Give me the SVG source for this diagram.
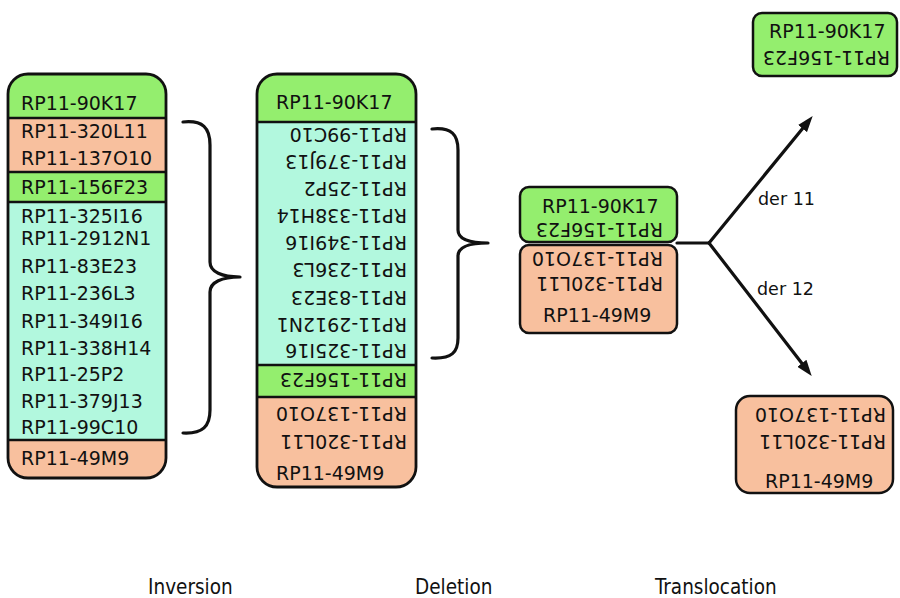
<svg xmlns="http://www.w3.org/2000/svg" width="900" height="598" viewBox="0 0 900 598">
<style>
.t{font-family:"DejaVu Sans","Liberation Sans",sans-serif;font-size:19px;fill:#111}
.lbl{font-family:"DejaVu Sans Condensed","DejaVu Sans",sans-serif;font-size:20.5px;fill:#111}
.der{font-family:"DejaVu Sans","Liberation Sans",sans-serif;font-size:17.5px;fill:#111}
.g{fill:#94EE6E}
.o{fill:#F8C09E}
.c{fill:#B2F8DE}
.div{stroke:#111;stroke-width:2.5}
.out{fill:none;stroke:#111;stroke-width:2.8}
.box{stroke:#111;stroke-width:2.5}
.con{fill:none;stroke:#111;stroke-width:3.2;stroke-linecap:round;stroke-linejoin:round}
</style>
<defs>
<clipPath id="clipL"><rect x="8" y="74" width="158" height="404" rx="20"/></clipPath>
<clipPath id="clipM"><rect x="257" y="74" width="159" height="413" rx="20"/></clipPath>
<marker id="ah" markerUnits="userSpaceOnUse" markerWidth="16" markerHeight="12" refX="6" refY="5" orient="auto" viewBox="0 0 14 10">
<path d="M0,0 L14,5 L0,10 z" fill="#111"/>
</marker>
</defs>

<!-- Inversion column -->
<g id="inversion">
<g clip-path="url(#clipL)">
<g id="inv-90K17"><rect class="g" x="8" y="74" width="158" height="44"/><text class="t" x="21" y="110">RP11-90K17</text></g>
<g id="inv-320L11-137O10"><rect class="o" x="8" y="118" width="158" height="54"/><text class="t" x="21" y="138">RP11-320L11</text><text class="t" x="21" y="165">RP11-137O10</text></g>
<g id="inv-156F23"><rect class="g" x="8" y="172" width="158" height="30"/><text class="t" x="21" y="194">RP11-156F23</text></g>
<g id="inv-segment"><rect class="c" x="8" y="202" width="158" height="238"/>
<text class="t" x="21" y="223">RP11-325I16</text>
<text class="t" x="21" y="245">RP11-2912N1</text>
<text class="t" x="21" y="273">RP11-83E23</text>
<text class="t" x="21" y="300">RP11-236L3</text>
<text class="t" x="21" y="328">RP11-349I16</text>
<text class="t" x="21" y="355">RP11-338H14</text>
<text class="t" x="21" y="381">RP11-25P2</text>
<text class="t" x="21" y="408">RP11-379J13</text>
<text class="t" x="21" y="434">RP11-99C10</text></g>
<g id="inv-49M9"><rect class="o" x="8" y="440" width="158" height="38"/><text class="t" x="21" y="465">RP11-49M9</text></g>
<line class="div" x1="8" y1="118" x2="166" y2="118"/>
<line class="div" x1="8" y1="172" x2="166" y2="172"/>
<line class="div" x1="8" y1="202" x2="166" y2="202"/>
<line class="div" x1="8" y1="440" x2="166" y2="440"/>
</g>
<rect class="out" x="8" y="74" width="158" height="404" rx="20"/>
</g>

<!-- Deletion column -->
<g id="deletion">
<g clip-path="url(#clipM)">
<g id="del-90K17"><rect class="g" x="257" y="74" width="159" height="48"/><text class="t" x="276" y="109">RP11-90K17</text></g>
<g id="del-segment"><rect class="c" x="257" y="122" width="159" height="243"/>
<text class="t" x="407" y="128" transform="rotate(180 407 128)">RP11-99C10</text>
<text class="t" x="407" y="155" transform="rotate(180 407 155)">RP11-379J13</text>
<text class="t" x="407" y="182" transform="rotate(180 407 182)">RP11-25P2</text>
<text class="t" x="407" y="209" transform="rotate(180 407 209)">RP11-338H14</text>
<text class="t" x="407" y="236" transform="rotate(180 407 236)">RP11-349I16</text>
<text class="t" x="407" y="263" transform="rotate(180 407 263)">RP11-236L3</text>
<text class="t" x="407" y="291" transform="rotate(180 407 291)">RP11-83E23</text>
<text class="t" x="407" y="318" transform="rotate(180 407 318)">RP11-2912N1</text>
<text class="t" x="407" y="344" transform="rotate(180 407 344)">RP11-325I16</text></g>
<g id="del-156F23"><rect class="g" x="257" y="365" width="159" height="32"/><text class="t" x="407" y="373" transform="rotate(180 407 373)">RP11-156F23</text></g>
<g id="del-tail"><rect class="o" x="257" y="397" width="159" height="90"/>
<text class="t" x="407" y="407" transform="rotate(180 407 407)">RP11-137O10</text>
<text class="t" x="407" y="435" transform="rotate(180 407 435)">RP11-320L11</text>
<text class="t" x="276" y="480">RP11-49M9</text></g>
<line class="div" x1="257" y1="122" x2="416" y2="122"/>
<line class="div" x1="257" y1="365" x2="416" y2="365"/>
<line class="div" x1="257" y1="397" x2="416" y2="397"/>
</g>
<rect class="out" x="257" y="74" width="159" height="413" rx="20"/>
</g>

<!-- Translocation -->
<g id="trans-green">
<rect class="g box" x="520" y="187" width="157" height="55" rx="9"/>
<text class="t" x="542" y="213">RP11-90K17</text>
<text class="t" x="663" y="223" transform="rotate(180 663 223)">RP11-156F23</text>
</g>
<g id="trans-orange">
<rect class="o box" x="520" y="245" width="157" height="88" rx="9"/>
<text class="t" x="663" y="252" transform="rotate(180 663 252)">RP11-137O10</text>
<text class="t" x="663" y="277" transform="rotate(180 663 277)">RP11-320L11</text>
<text class="t" x="543" y="322">RP11-49M9</text>
</g>
<g id="der11">
<rect class="g box" x="753" y="13" width="144" height="63" rx="9"/>
<text class="t" x="769" y="38">RP11-90K17</text>
<text class="t" x="890" y="51" transform="rotate(180 890 51)">RP11-156F23</text>
</g>
<g id="der12">
<rect class="o box" x="736" y="396" width="157" height="97" rx="14"/>
<text class="t" x="886" y="408" transform="rotate(180 886 408)">RP11-137O10</text>
<text class="t" x="886" y="435" transform="rotate(180 886 435)">RP11-320L11</text>
<text class="t" x="765" y="488">RP11-49M9</text>
</g>

<!-- Connectors -->
<g id="connectors">
<path class="con" d="M183,122 C203,120 210,128 210,145 L210,262 C210,272 222,277 240,277 C222,277 210,282 210,292 L210,410 C210,426 203,434 183,433"/>
<path class="con" d="M432,129 C452,127 458,135 458,150 L458,230 C458,239 470,243 488,243 C470,243 458,247 458,256 L458,338 C458,352 452,359 432,358"/>
<path class="con" d="M677,243 L709,243"/>
<path class="con" d="M709,243 L806.9,123.2" marker-end="url(#ah)"/>
<path class="con" d="M709,243 L806.1,368.7" marker-end="url(#ah)"/>
<text class="der" x="758" y="205">der 11</text>
<text class="der" x="757" y="295">der 12</text>
</g>

<!-- Labels -->
<text class="lbl" x="148" y="594">Inversion</text>
<text class="lbl" x="415" y="594">Deletion</text>
<text class="lbl" x="655" y="594">Translocation</text>
</svg>
